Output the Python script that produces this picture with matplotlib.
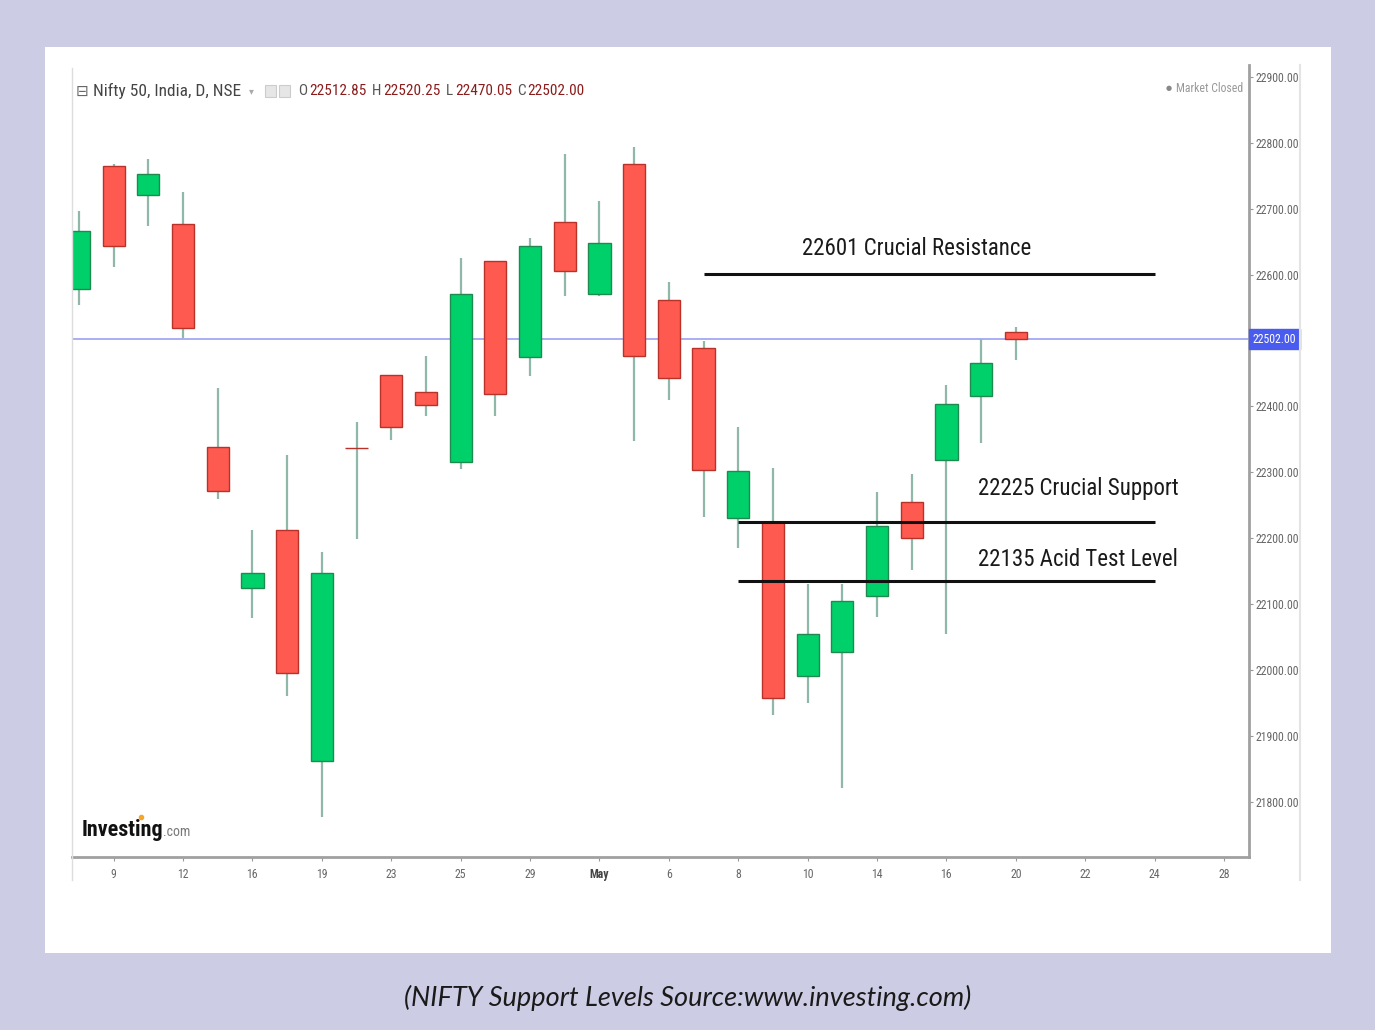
"""
Nifty 50 daily candles with support / resistance levels (investing.com style).
"""
import matplotlib
matplotlib.use('Agg')
import matplotlib.pyplot as plt
from matplotlib.lines import Line2D
from matplotlib.patches import Rectangle
import matplotlib.transforms as mtransforms

W, H = 1375, 1030

# daily OHLC, 8 Apr .. 20 May 2024
opens = [22578, 22765, 22720, 22677, 22339, 22125, 22212, 21861, 22337, 22447,
         22421, 22316, 22620, 22475, 22679, 22571, 22767, 22562, 22489, 22231,
         22224, 21990, 22027, 22112, 22255, 22319, 22415, 22512.85]
highs = [22697, 22768, 22775, 22726, 22428, 22213, 22326, 22179, 22376, 22447,
         22476, 22625, 22620, 22655, 22783, 22711, 22794, 22588, 22499, 22368,
         22307, 22131, 22131, 22270, 22297, 22432, 22502, 22520.25]
lows = [22554, 22612, 22673, 22503, 22259, 22079, 21961, 21777, 22198, 22349,
        22386, 22305, 22386, 22446, 22568, 22568, 22348, 22409, 22232, 22185,
        21932, 21950, 21821, 22081, 22151, 22054, 22345, 22470.05]
closes = [22666, 22643, 22753, 22519, 22272, 22147, 21996, 22147, 22336, 22368,
          22402, 22570, 22419, 22643, 22605, 22648, 22476, 22443, 22303, 22302,
          21958, 22055, 22104, 22218, 22200, 22403, 22466, 22502.00]

tick_pos = [1, 3, 5, 7, 9, 11, 13, 15, 17, 19, 21, 23, 25, 27, 29, 31, 33]
tick_labels = ['9', '12', '16', '19', '23', '25', '29', 'May', '6', '8', '10',
               '14', '16', '20', '22', '24', '28']
y_ticks = [21800, 21900, 22000, 22100, 22200, 22300, 22400, 22600, 22700, 22800, 22900]

last_close = 22502.00
levels = [22601, 22225, 22135]
level_labels = ['22601 Crucial Resistance', '22225 Crucial Support', '22135 Acid Test Level']
level_start = [18, 19, 19]
level_end = 31

GREEN, RED = '#00d06a', '#ff5a50'
NARROW = ['Roboto Condensed', 'Roboto', 'DejaVu Sans']


def fx(x):
    return x / W


def fy(y):
    return 1 - y / H


fig = plt.figure(figsize=(W / 100, H / 100), dpi=100)
fig.patch.set_facecolor('#cccde5')
fig.add_artist(Rectangle((fx(45), fy(953)), fx(1331) - fx(45), fy(47) - fy(953),
                         transform=fig.transFigure, facecolor='white', edgecolor='none', zorder=0))

ax = fig.add_axes([fx(72), fy(857), fx(1249) - fx(72), fy(65) - fy(857)])
ax.set_facecolor('white')

# candles
for i in range(len(opens)):
    o, hi, lo, c = opens[i], highs[i], lows[i], closes[i]
    col = GREEN if c >= o else RED
    edge = '#1f8a50' if c >= o else '#b8322a'
    ax.vlines(i, lo, hi, color='#8fb8a8', lw=1.6, zorder=2)
    ax.bar(i, abs(c - o), bottom=min(o, c), width=0.64, color=col,
           edgecolor=edge, linewidth=1.0, zorder=3)

# last price line
ax.axhline(last_close, color='#a9aef5', lw=1.4, zorder=1)

# level lines and captions
for lv, lab, st in zip(levels, level_labels, level_start):
    ax.hlines(lv, st, level_end, color='#111111', lw=2.2, zorder=4)
txt_kw = dict(va='center', fontsize=16.5, family=NARROW, fontstretch='condensed', color='#1a1a1a')
ax.text(24.15, 22640, level_labels[0], ha='center', **txt_kw)
ax.text(25.9, 22275, level_labels[1], ha='left', **txt_kw)
ax.text(25.9, 22167, level_labels[2], ha='left', **txt_kw)

ax.set_xlim(-0.2, 33.72)
ax.set_ylim(21716, 22918)

ax.set_xticks(tick_pos)
ax.set_xticklabels(tick_labels, fontsize=8.5, color='#666666', family=NARROW)
for t in ax.get_xticklabels():
    if t.get_text() == 'May':
        t.set_fontweight('bold')
        t.set_color('#444444')
ax.tick_params(axis='x', length=3, color='#999999', pad=5)

ax.yaxis.tick_right()
ax.set_yticks(y_ticks)
ax.set_yticklabels([f'{v:.2f}' for v in y_ticks], fontsize=8.5, color='#666666', family=NARROW)
ax.tick_params(axis='y', length=3, color='#999999', pad=2)

for s in ['top', 'left']:
    ax.spines[s].set_visible(False)
ax.spines['bottom'].set_color('#a0a0a0')
ax.spines['bottom'].set_linewidth(2)
ax.spines['right'].set_color('#a0a0a0')
ax.spines['right'].set_linewidth(2)

# last price tag on the axis
trans = mtransforms.blended_transform_factory(ax.transAxes, ax.transData)
ax.text(1.003, last_close, '22502.00', transform=trans, ha='left', va='center',
        fontsize=8.5, family=NARROW, color='white', clip_on=False,
        bbox=dict(boxstyle='square,pad=0.3', facecolor='#4a5cf0', edgecolor='#4a5cf0'))

# widget borders
fig.add_artist(Line2D([fx(72), fx(72)], [fy(68), fy(880)], color='#dddddd', lw=1))
fig.add_artist(Line2D([fx(1300), fx(1300)], [fy(65), fy(880)], color='#e4e4e4', lw=1.5))

# header
hy = fy(91)
fig.text(fx(76), hy, '\u229f', fontsize=11, color='#666666', va='center')
fig.text(fx(93), hy, 'Nifty 50, India, D, NSE', color='#444444', fontsize=12.5,
         family=NARROW, fontstretch='condensed', va='center')
fig.text(fx(249), hy, '\u25be', fontsize=7, color='#aaaaaa', va='center')
fig.add_artist(Rectangle((fx(265), fy(97)), 11 / W, 12 / H, transform=fig.transFigure,
                         facecolor='#e6e6e6', edgecolor='#cccccc', lw=0.8))
fig.add_artist(Rectangle((fx(279), fy(97)), 11 / W, 12 / H, transform=fig.transFigure,
                         facecolor='#e6e6e6', edgecolor='#cccccc', lw=0.8))
ohlc_parts = [('O', 298, '22512.85', 309), ('H', 372, '22520.25', 383),
              ('L', 446, '22470.05', 455), ('C', 517, '22502.00', 527)]
hd_kw = dict(fontsize=11, family=NARROW, fontstretch='condensed', va='center')
for k, kx, v, vx in ohlc_parts:
    fig.text(fx(kx), hy, k, color='#555555', **hd_kw)
    fig.text(fx(vx), hy, v, color='#8b1c1c', **hd_kw)

fig.text(fx(1166), fy(88), '\u25cf', fontsize=5, color='#888888', va='center')
fig.text(fx(1176), fy(88), 'Market Closed', fontsize=8.5, family=NARROW, color='#999999', va='center')

# logo
fig.text(fx(82), fy(830), 'Investing', fontsize=15.8, family=NARROW, fontstretch='condensed',
         fontweight='bold', color='#111111', va='center')
fig.text(fx(163), fy(832), '.com', fontsize=10, family=NARROW, color='#777777', va='center')
fig.add_artist(Line2D([fx(141)], [fy(817)], marker='o', markersize=3, color='#f5a623', lw=0))

# caption
fig.text(0.5, fy(998), '(NIFTY Support Levels Source:www.investing.com)', ha='center',
         va='center', fontsize=19.5, style='italic', family=['Lato', 'DejaVu Sans'], color='#1a1a1a')

fig.savefig('out.png', dpi=100, facecolor=fig.get_facecolor())
